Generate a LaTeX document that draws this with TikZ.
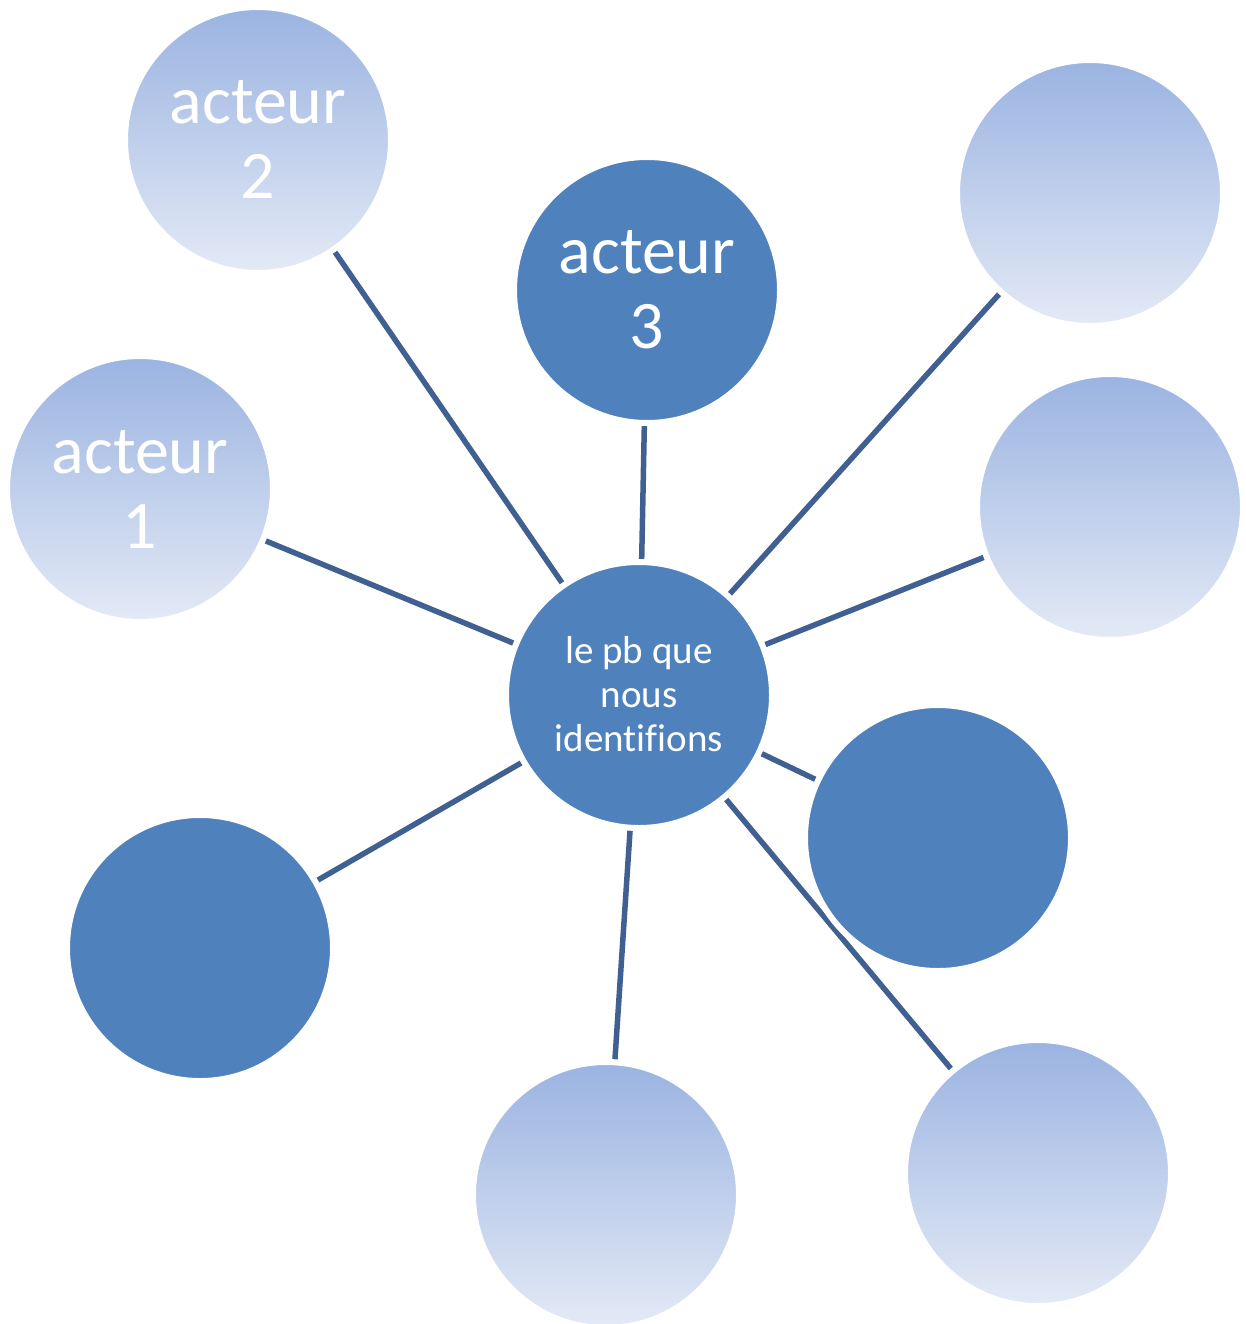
\documentclass[tikz,border=0pt]{standalone}
\usepackage{fontspec}
\setmainfont[Ligatures=CommonOff]{Carlito}
\usetikzlibrary{backgrounds}
\definecolor{darkb}{RGB}{79,129,189}
\definecolor{lighttop}{RGB}{154,179,225}
\definecolor{lightbot}{RGB}{228,234,246}
\definecolor{edgec}{RGB}{64,96,145}
\tikzset{
  bub/.style={circle, draw=white, line width=6pt, minimum size=266pt, inner sep=0pt},
  darkbub/.style={bub, fill=darkb},
  lightbub/.style={bub, top color=lighttop, bottom color=lightbot},
  bigtxt/.style={text=white, align=center, font=\fontsize{68}{75}\selectfont},
  smalltxt/.style={text=white, align=center, font=\fontsize{39}{44}\selectfont},
  link/.style={draw=edgec, line width=5.5pt}
}
\begin{document}
\begin{tikzpicture}[x=1pt, y=-1pt]
\useasboundingbox (0,0) rectangle (1245,1324);
\node[lightbub] (a2) at (258,140) {};
\node[bigtxt] (t2) at (258,140) {acteur\\2};
\node[lightbub] (a1) at (140,489) {};
\node[bigtxt] (t1) at (140,489) {acteur\\1};
\node[darkbub] (a3) at (647,290) {};
\node[bigtxt] (t3) at (647,290) {acteur\\3};
\node[lightbub] (tr) at (1090,193) {};
\node[lightbub] (r) at (1110,507) {};
\node[darkbub] (c) at (639,695) {};
\node[smalltxt] (tc) at (639,694) {le pb que\\nous\\identifions};
\node[darkbub] (rd) at (938,838) {};
\node[darkbub] (ld) at (200,948) {};
\node[lightbub] (b) at (606,1195) {};
\node[lightbub] (br) at (1038,1173) {};
\begin{scope}[on background layer]
\foreach \n in {a1,a2,a3,tr,r,rd,br,b,ld}{
  \draw[link] (c.center) -- (\n.center);
}
\end{scope}
\end{tikzpicture}
\end{document}
